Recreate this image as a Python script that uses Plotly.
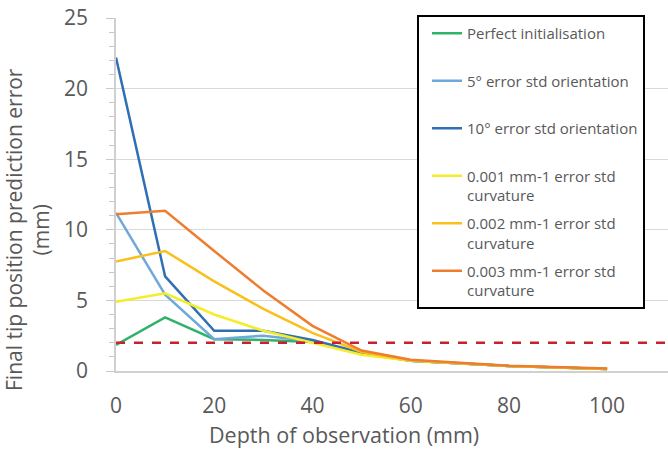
import plotly.graph_objects as go

depth = [0, 10, 20, 30, 40, 50, 60, 80, 100]
perfect = [1.85, 3.8, 2.25, 2.2, 2.05, 1.25, 0.72, 0.35, 0.15]
orient5 = [11.2, 5.4, 2.25, 2.5, 2.1, 1.25, 0.72, 0.35, 0.15]
orient10 = [22.2, 6.7, 2.85, 2.85, 2.2, 1.3, 0.72, 0.35, 0.15]
curv001 = [4.9, 5.5, 4.0, 2.85, 2.0, 1.15, 0.72, 0.35, 0.15]
curv002 = [7.75, 8.5, 6.35, 4.4, 2.7, 1.35, 0.75, 0.35, 0.15]
curv003 = [11.1, 11.35, 8.5, 5.7, 3.2, 1.45, 0.8, 0.38, 0.17]
threshold = 2

names = ["Perfect initialisation", "5° error std orientation", "10° error std orientation",
         "0.001 mm-1 error std<br>curvature", "0.002 mm-1 error std<br>curvature",
         "0.003 mm-1 error std<br>curvature"]
series = [perfect, orient5, orient10, curv001, curv002, curv003]
colors = ["#2fb36b", "#6fa8dc", "#2e6fb5", "#f5ec2a", "#fbbf1c", "#ee7d30"]

fig = go.Figure()
for i, (n, s, c) in enumerate(zip(names, series, colors)):
    label = n if "<br>" in n else n + "<br> "
    fig.add_trace(go.Scatter(x=depth, y=s, mode="lines", name=label,
                             line=dict(color=c, width=2.5), legendgroup=str(i)))

fig.add_hline(y=threshold, line=dict(color="#c8202f", width=2.5, dash="dash"))

# white area behind legend (covers gridlines as in reference)
fig.add_shape(type="rect", xref="paper", yref="paper", x0=0.509, x1=1.0, y0=0.181, y1=1.06,
              fillcolor="white", line=dict(width=0), layer="between")

tickfont = dict(family="Open Sans", size=21, color="#595959")
fig.update_xaxes(range=[0, 112.4], tickvals=[0, 20, 40, 60, 80, 100], tickfont=tickfont,
                 showgrid=False, zeroline=False, showline=True, linecolor="#d0d0d0",
                 linewidth=1.5, ticks="", ticklabelstandoff=15)
fig.update_yaxes(range=[0, 25], tickvals=[0, 5, 10, 15, 20, 25], tickfont=tickfont,
                 showgrid=True, gridcolor="#d9d9d9", gridwidth=1, zeroline=False,
                 showline=True, linecolor="#d0d0d0", linewidth=1.5,
                 ticks="outside", ticklen=8, tickcolor="#c8c8c8",
                 minor=dict(dtick=1, ticks="outside", ticklen=5, tickcolor="#c8c8c8", showgrid=False),
                 ticklabelstandoff=14)

fig.add_annotation(text="Depth of observation (mm)", xref="paper", yref="paper",
                   x=(344 - 116) / 552, y=(371 - 434) / 353, xanchor="center", yanchor="middle",
                   showarrow=False, font=dict(family="Open Sans", size=21.5, color="#595959"))
fig.add_annotation(text="Final tip position prediction error<br>(mm)", xref="paper", yref="paper",
                   x=(28 - 116) / 552, y=(371 - 230) / 353, xanchor="center", yanchor="middle",
                   textangle=-90, showarrow=False,
                   font=dict(family="Open Sans", size=21, color="#595959"))

fig.update_layout(
    width=668, height=460,
    margin=dict(l=116, r=0, t=18, b=89),
    paper_bgcolor="white", plot_bgcolor="white",
    showlegend=True,
    legend=dict(x=(417 - 116) / 552, y=(371 - 15) / 353, xanchor="left", yanchor="top",
                bordercolor="black", borderwidth=2, bgcolor="white",
                font=dict(family="Open Sans", size=15, color="#595959"),
                traceorder="grouped", tracegroupgap=5.5, valign="top",
                indentation=8, maxheight=420),
)

fig.write_html("out.html")
